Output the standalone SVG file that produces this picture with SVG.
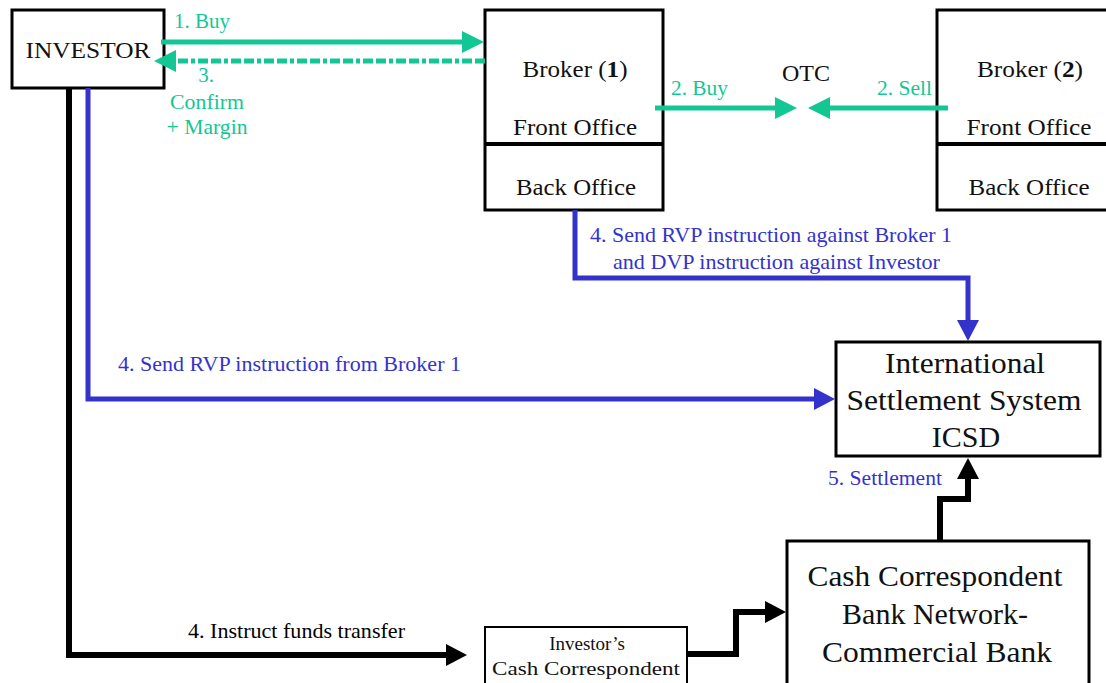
<svg xmlns="http://www.w3.org/2000/svg" width="1106" height="683" viewBox="0 0 1106 683">
<style>
  .box{fill:#fff;stroke:#000;stroke-width:3}
  .t{font-family:"Liberation Serif","Times New Roman",serif;fill:#111}
  .g{font-family:"Liberation Serif","Times New Roman",serif;fill:#12C794;font-size:21px}
  .b{font-family:"Liberation Serif","Times New Roman",serif;fill:#3333CC;font-size:21px}
  .k{font-family:"Liberation Serif","Times New Roman",serif;fill:#000;font-size:21px}
  .cg{fill:none;stroke:#12C794;stroke-width:5}
  .cb{fill:none;stroke:#3333CC;stroke-width:5}
  .ck{fill:none;stroke:#000;stroke-width:6}
</style>
<defs>
  <marker id="ag" viewBox="0 -11 22 22" refX="1" refY="0" markerWidth="22" markerHeight="22" markerUnits="userSpaceOnUse" orient="auto"><path d="M0,-11 L22,0 L0,11 Z" fill="#12C794"/></marker>
  <marker id="ab" viewBox="0 -11 22 22" refX="1" refY="0" markerWidth="22" markerHeight="22" markerUnits="userSpaceOnUse" orient="auto"><path d="M0,-11 L21,0 L0,11 Z" fill="#3333CC"/></marker>
  <marker id="ak" viewBox="0 -11 22 22" refX="1" refY="0" markerWidth="22" markerHeight="22" markerUnits="userSpaceOnUse" orient="auto"><path d="M0,-11 L21,0 L0,11 Z" fill="#000"/></marker>
</defs>
<rect width="1106" height="683" fill="#fff"/>

<g id="investor">
  <rect class="box" x="12" y="10" width="152" height="78"/>
  <text class="t" x="88" y="58" font-size="24" text-anchor="middle" textLength="125" lengthAdjust="spacingAndGlyphs">INVESTOR</text>
</g>

<g id="broker1">
  <rect class="box" x="485" y="10" width="178" height="200"/>
  <line x1="485" y1="144" x2="663" y2="144" stroke="#000" stroke-width="4"/>
  <text class="t" x="575" y="77" font-size="24" text-anchor="middle" textLength="105" lengthAdjust="spacingAndGlyphs">Broker (<tspan font-weight="bold">1</tspan>)</text>
  <text class="t" x="575" y="135" font-size="24" text-anchor="middle" textLength="124" lengthAdjust="spacingAndGlyphs">Front Office</text>
  <text class="t" x="576" y="195" font-size="24" text-anchor="middle" textLength="120" lengthAdjust="spacingAndGlyphs">Back Office</text>
</g>

<g id="otc">
  <text class="t" x="806" y="81" font-size="24" text-anchor="middle" textLength="48" lengthAdjust="spacingAndGlyphs">OTC</text>
</g>

<g id="broker2">
  <rect class="box" x="937" y="10" width="190" height="200"/>
  <line x1="937" y1="144" x2="1110" y2="144" stroke="#000" stroke-width="4"/>
  <text class="t" x="1030" y="77" font-size="24" text-anchor="middle" textLength="106" lengthAdjust="spacingAndGlyphs">Broker (<tspan font-weight="bold">2</tspan>)</text>
  <text class="t" x="1029" y="135" font-size="24" text-anchor="middle" textLength="125" lengthAdjust="spacingAndGlyphs">Front Office</text>
  <text class="t" x="1029" y="195" font-size="24" text-anchor="middle" textLength="121" lengthAdjust="spacingAndGlyphs">Back Office</text>
</g>

<g id="icsd">
  <rect class="box" x="836" y="342" width="264" height="114"/>
  <text class="t" x="965" y="373" font-size="30" text-anchor="middle" textLength="160" lengthAdjust="spacingAndGlyphs">International</text>
  <text class="t" x="964" y="410" font-size="30" text-anchor="middle" textLength="235" lengthAdjust="spacingAndGlyphs">Settlement System</text>
  <text class="t" x="966" y="447" font-size="30" text-anchor="middle">ICSD</text>
</g>

<g id="investor-cash">
  <rect x="485" y="627" width="202" height="70" fill="#fff" stroke="#000" stroke-width="2"/>
  <text class="t" x="587" y="650" font-size="19" text-anchor="middle">Investor’s</text>
  <text class="t" x="586" y="675" font-size="19" text-anchor="middle" textLength="188" lengthAdjust="spacingAndGlyphs">Cash Correspondent</text>
</g>

<g id="bank">
  <rect class="box" x="787" y="541" width="302" height="150"/>
  <text class="t" x="935" y="586" font-size="30" text-anchor="middle" textLength="255" lengthAdjust="spacingAndGlyphs" fill="#222">Cash Correspondent</text>
  <text class="t" x="935" y="624" font-size="30" text-anchor="middle" fill="#222">Bank Network-</text>
  <text class="t" x="937" y="662" font-size="30" text-anchor="middle" textLength="230" lengthAdjust="spacingAndGlyphs" fill="#222">Commercial Bank</text>
</g>

<g id="connectors">
  <path class="cg" d="M161,42 H463" marker-end="url(#ag)"/>
  <path class="cg" d="M485,61 H175" stroke-width="6" stroke-dasharray="10 3 10 3 4 3" marker-end="url(#ag)"/>
  <path class="cg" d="M655,108 H776" marker-end="url(#ag)"/>
  <path class="cg" d="M948,108 H829" marker-end="url(#ag)"/>
  <path class="cb" d="M575,210 V278 H968 V321" marker-end="url(#ab)"/>
  <path class="cb" d="M88,88 V399 H815" marker-end="url(#ab)"/>
  <path class="ck" d="M69,88 V655 H447" marker-end="url(#ak)"/>
  <path class="ck" d="M687,654 H736 V612 H766" marker-end="url(#ak)"/>
  <path class="ck" d="M940,540 V499 H968 V478" marker-end="url(#ak)"/>

  <text class="g" x="174" y="28" textLength="56" lengthAdjust="spacingAndGlyphs">1. Buy</text>
  <text class="g" x="206" y="82" text-anchor="middle">3.</text>
  <text class="g" x="207" y="109" text-anchor="middle" textLength="74" lengthAdjust="spacingAndGlyphs">Confirm</text>
  <text class="g" x="207" y="134" text-anchor="middle" textLength="81" lengthAdjust="spacingAndGlyphs">+ Margin</text>
  <text class="g" x="671" y="95" textLength="57" lengthAdjust="spacingAndGlyphs">2. Buy</text>
  <text class="g" x="877" y="95" textLength="55" lengthAdjust="spacingAndGlyphs">2. Sell</text>
  <text class="b" x="590" y="242" textLength="362" lengthAdjust="spacingAndGlyphs">4. Send RVP instruction against Broker 1</text>
  <text class="b" x="613" y="269" textLength="327" lengthAdjust="spacingAndGlyphs">and DVP instruction against Investor</text>
  <text class="b" x="118" y="371" textLength="343" lengthAdjust="spacingAndGlyphs">4. Send RVP instruction from Broker 1</text>
  <text class="b" x="828" y="485" textLength="114" lengthAdjust="spacingAndGlyphs">5. Settlement</text>
  <text class="k" x="188" y="638" textLength="217" lengthAdjust="spacingAndGlyphs">4. Instruct funds transfer</text>
</g>
</svg>
